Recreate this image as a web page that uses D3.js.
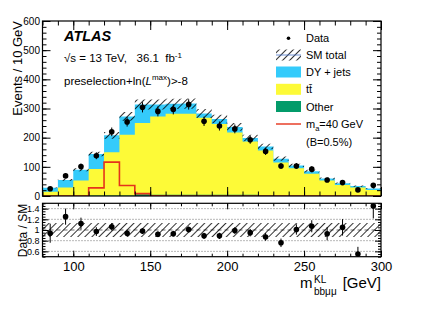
<!DOCTYPE html>
<html>
<head>
<meta charset="utf-8">
<script src="https://cdn.jsdelivr.net/npm/d3@7"></script>
<style>
body { margin: 0; background: #fff; }
text { font-family: "Liberation Sans", Arial, Helvetica, sans-serif; }
</style>
</head>
<body>
<div id="vis"></div>
<script>
// bins (lower edges, GeV)
var binLow = [80, 90, 100, 110, 120, 130, 140, 150, 160, 170, 180, 190, 200, 210, 220, 230, 240, 250, 260, 270, 280, 290];
var binWidth = 10;

// observed events
var dataEvents = [25, 69, 101, 138, 220, 254, 304, 290, 297, 314, 256, 240, 230, 193, 153, 103, 103, 92, 55, 46, 21, 37];
// stacked tops
var smTotal  = [28, 55, 90, 144, 208, 273, 314, 314, 316, 317, 283, 264, 237, 199, 170, 128, 105, 85, 60, 44, 34, 26];
var ttbarTop = [15, 29, 53, 93, 150, 210, 250, 273, 282, 282, 268, 247, 218, 187, 156, 115, 95, 76, 53, 38, 29, 21];
var otherBkg = [1, 1, 1, 2, 2, 2, 6, 4, 4, 4, 4, 4, 4, 4, 3, 2, 2, 1, 1, 1, 1, 1];
// signal m_a = 40 GeV
var signal   = [0, 0, 0, 28, 116, 36, 8, 1, 0, 0, 0, 0, 0, 0, 0, 0, 0, 0, 0, 0, 0, 0];
// data / SM
var ratioVals = [0.94, 1.25, 1.12, 0.97, 1.06, 0.94, 0.98, 0.92, 0.93, 1.01, 0.89, 0.89, 0.99, 0.95, 0.87, 0.76, 1.01, 1.07, 0.93, 1.05, 0.55, 1.45];

var mainBandRel = 0.055;
var ratioBandRel = 0.13;

var yTicksMain = [0, 100, 200, 300, 400, 500, 600];
var yTicksRatio = [0.6, 0.8, 1, 1.2, 1.4];
var xTickLabels = [100, 150, 200, 250, 300];

var legendItems = ["Data", "SM total", "DY + jets", "tt\u0304", "Other", "m_a=40 GeV", "(B=0.5%)"];

var cBlue = "#34cbfb", cYellow = "#fdfa37", cGreen = "#039b6a", cRed = "#e5331b";

var width = 424, height = 328;
var L = 42.5, R = 381;
var mainTop = 21, mainBot = 196;
var ratTop = 203.3, ratBot = 256.7;

var svg = d3.select("#vis").append("svg")
    .attr("width", width).attr("height", height);

var defs = svg.append("defs");
var pat = defs.append("pattern").attr("id", "hatch")
    .attr("patternUnits", "userSpaceOnUse")
    .attr("width", 5).attr("height", 5)
    .attr("patternTransform", "rotate(45)");
pat.append("line").attr("x1", 2.5).attr("y1", 0).attr("x2", 2.5).attr("y2", 5)
    .attr("stroke", "#000").attr("stroke-width", 0.8);

defs.append("clipPath").attr("id", "clipMain").append("rect")
    .attr("x", L).attr("y", mainTop).attr("width", R - L).attr("height", mainBot - mainTop);
defs.append("clipPath").attr("id", "clipRatio").append("rect")
    .attr("x", L).attr("y", ratTop).attr("width", R - L).attr("height", ratBot - ratTop);

var x = d3.scaleLinear().domain([80, 300]).range([L, R]);
var y = d3.scaleLinear().domain([0, 600]).range([mainBot, mainTop]);
var yr = d3.scaleLinear().domain([0.5, 1.5]).range([ratBot, ratTop]);

function steps(vals) {
    var pts = binLow.map(function(b, i) { return [b, vals[i]]; });
    pts.push([binLow[binLow.length - 1] + binWidth, vals[vals.length - 1]]);
    return pts;
}

var stepArea = d3.area().curve(d3.curveStepAfter)
    .x(function(d) { return x(d[0]); })
    .y0(y(0))
    .y1(function(d) { return y(d[1]); });

// main panel
var gMain = svg.append("g").attr("clip-path", "url(#clipMain)");

gMain.append("path").datum(steps(smTotal)).attr("d", stepArea).attr("fill", cBlue);
gMain.append("path").datum(steps(ttbarTop)).attr("d", stepArea).attr("fill", cYellow);
gMain.append("path").datum(steps(otherBkg)).attr("d", stepArea).attr("fill", cGreen);

var bandArea = d3.area().curve(d3.curveStepAfter)
    .x(function(d) { return x(d[0]); })
    .y0(function(d) { return y(d[1] * (1 - mainBandRel)); })
    .y1(function(d) { return y(d[1] * (1 + mainBandRel)); });
gMain.append("path").datum(steps(smTotal)).attr("d", bandArea).attr("fill", "url(#hatch)");

var stepLine = d3.line().curve(d3.curveStepAfter)
    .x(function(d) { return x(d[0]); })
    .y(function(d) { return y(d[1]); });
gMain.append("path").datum(steps(signal)).attr("d", stepLine)
    .attr("fill", "none").attr("stroke", cRed).attr("stroke-width", 1.6);

var pts = gMain.selectAll(".dp").data(dataEvents).enter().append("g").attr("class", "dp");
pts.append("line")
    .attr("x1", function(d, i) { return x(binLow[i] + binWidth / 2); })
    .attr("x2", function(d, i) { return x(binLow[i] + binWidth / 2); })
    .attr("y1", function(d) { return y(d - Math.sqrt(d)); })
    .attr("y2", function(d) { return y(d + Math.sqrt(d)); })
    .attr("stroke", "#000").attr("stroke-width", 1);
pts.append("circle")
    .attr("cx", function(d, i) { return x(binLow[i] + binWidth / 2); })
    .attr("cy", function(d) { return y(d); })
    .attr("r", 2.8).attr("fill", "#000");

// ratio panel
var gRat = svg.append("g").attr("clip-path", "url(#clipRatio)");

yTicksRatio.forEach(function(v) {
    gRat.append("line").attr("x1", L).attr("x2", R).attr("y1", yr(v)).attr("y2", yr(v))
        .attr("stroke", "#333").attr("stroke-width", 0.7)
        .attr("stroke-dasharray", v === 1 ? "4,3" : "1,2");
});

var ratBand = d3.area().curve(d3.curveStepAfter)
    .x(function(d) { return x(d[0]); })
    .y0(yr(1 - ratioBandRel))
    .y1(yr(1 + ratioBandRel));
gRat.append("path").datum(steps(smTotal)).attr("d", ratBand).attr("fill", "url(#hatch)");

var rp = gRat.selectAll(".rp").data(ratioVals).enter().append("g").attr("class", "rp");
rp.append("line")
    .attr("x1", function(d, i) { return x(binLow[i] + binWidth / 2); })
    .attr("x2", function(d, i) { return x(binLow[i] + binWidth / 2); })
    .attr("y1", function(d, i) { return yr(d - Math.sqrt(dataEvents[i]) / smTotal[i]); })
    .attr("y2", function(d, i) { return yr(d + Math.sqrt(dataEvents[i]) / smTotal[i]); })
    .attr("stroke", "#000").attr("stroke-width", 1);
rp.append("circle")
    .attr("cx", function(d, i) { return x(binLow[i] + binWidth / 2); })
    .attr("cy", function(d) { return yr(d); })
    .attr("r", 2.8).attr("fill", "#000");

// axes with inward ticks
function tickAxis(axis, tx, ty, size, labels, fs, pad) {
    var g = svg.append("g").attr("transform", "translate(" + tx + "," + ty + ")")
        .call(axis.tickSize(-size).tickPadding(pad || 3));
    g.select(".domain").remove();
    g.selectAll("line").attr("stroke", "#000").attr("stroke-width", 1);
    g.selectAll("text").attr("font-size", fs || 10)
        .attr("font-family", "Liberation Sans, Arial, sans-serif").attr("fill", "#000");
    if (!labels) g.selectAll("text").remove();
    return g;
}

var minorX = d3.range(80, 301, 10);
var minorY = d3.range(0, 601, 20);
var minorR = d3.range(0.5, 1.501, 0.05);

// main
tickAxis(d3.axisLeft(y).tickValues(yTicksMain).tickFormat(d3.format("d")), L, 0, 8, true, 10, 2.5);
tickAxis(d3.axisLeft(y).tickValues(minorY), L, 0, 4, false);
tickAxis(d3.axisRight(y).tickValues(yTicksMain), R, 0, 8, false);
tickAxis(d3.axisRight(y).tickValues(minorY), R, 0, 4, false);
tickAxis(d3.axisTop(x).tickValues(xTickLabels), 0, mainTop, 9, false);
tickAxis(d3.axisTop(x).tickValues(minorX), 0, mainTop, 4.5, false);
tickAxis(d3.axisBottom(x).tickValues(xTickLabels), 0, mainBot, 9, false);
tickAxis(d3.axisBottom(x).tickValues(minorX), 0, mainBot, 4.5, false);

// ratio
tickAxis(d3.axisLeft(yr).tickValues(yTicksRatio).tickFormat(d3.format("")), L, 0, 6, true, 9, 3);
tickAxis(d3.axisLeft(yr).tickValues(minorR), L, 0, 3, false);
tickAxis(d3.axisRight(yr).tickValues(yTicksRatio), R, 0, 6, false);
tickAxis(d3.axisRight(yr).tickValues(minorR), R, 0, 3, false);
tickAxis(d3.axisTop(x).tickValues(xTickLabels), 0, ratTop, 6, false);
tickAxis(d3.axisTop(x).tickValues(minorX), 0, ratTop, 3, false);
tickAxis(d3.axisBottom(x).tickValues(xTickLabels), 0, ratBot, 6, true, 13, 5);
tickAxis(d3.axisBottom(x).tickValues(minorX), 0, ratBot, 3, false);

// frames
svg.append("rect").attr("x", L).attr("y", mainTop).attr("width", R - L).attr("height", mainBot - mainTop)
    .attr("fill", "none").attr("stroke", "#000").attr("stroke-width", 1.2);
svg.append("rect").attr("x", L).attr("y", ratTop).attr("width", R - L).attr("height", ratBot - ratTop)
    .attr("fill", "none").attr("stroke", "#000").attr("stroke-width", 1.2);

// axis titles
svg.append("text").attr("transform", "translate(22," + mainTop + ") rotate(-90)")
    .attr("text-anchor", "end").attr("font-size", 13).text("Events / 10 GeV");
svg.append("text").attr("transform", "translate(27," + (ratTop + 0.5) + ") rotate(-90)")
    .attr("text-anchor", "end").attr("font-size", 12).text("Data / SM");

svg.append("text").attr("x", 300).attr("y", 287.5).attr("font-size", 15).text("m");
svg.append("text").attr("x", 314).attr("y", 283).attr("font-size", 10).text("KL");
svg.append("text").attr("x", 314).attr("y", 295).attr("font-size", 10).text("bb\u03bc\u03bc");
svg.append("text").attr("x", R).attr("y", 287.5).attr("text-anchor", "end").attr("font-size", 15).text("[GeV]");

// labels
svg.append("text").attr("x", 64).attr("y", 40.5).attr("font-size", 14.5)
    .attr("font-weight", "bold").attr("font-style", "italic").text("ATLAS");

var t1 = svg.append("text").attr("x", 64).attr("y", 62).attr("font-size", 11.5).style("white-space", "pre");
t1.append("tspan").text("\u221as = 13 TeV,   36.1  fb");
t1.append("tspan").attr("font-size", 8).attr("dy", -4.5).text("-1");

var t2 = svg.append("text").attr("x", 64).attr("y", 84.5).attr("font-size", 11.5);
t2.append("tspan").text("preselection+ln(");
t2.append("tspan").attr("font-style", "italic").text("L");
t2.append("tspan").attr("font-size", 8).attr("dy", -4.5).text("max");
t2.append("tspan").attr("dy", 4.5).text(")>-8");

// legend
var lgX = 276, lgW = 25, lgT = 306;
var lgY = [38.3, 55, 72, 89.3, 106.5, 124, 141.5];
var lg = svg.append("g").attr("font-size", 11);

lg.append("circle").attr("cx", lgX + lgW / 2).attr("cy", lgY[0]).attr("r", 1.8).attr("fill", "#000");
lg.append("rect").attr("x", lgX).attr("y", lgY[1] - 5.5).attr("width", lgW).attr("height", 11).attr("fill", "url(#hatch)");
lg.append("line").attr("x1", lgX).attr("x2", lgX + lgW).attr("y1", lgY[1]).attr("y2", lgY[1])
    .attr("stroke", "#4a74c9").attr("stroke-width", 0.8);
[cBlue, cYellow, cGreen].forEach(function(c, k) {
    lg.append("rect").attr("x", lgX).attr("y", lgY[k + 2] - 5.5).attr("width", lgW).attr("height", 11).attr("fill", c);
});
lg.append("line").attr("x1", lgX).attr("x2", lgX + lgW).attr("y1", lgY[5]).attr("y2", lgY[5])
    .attr("stroke", cRed).attr("stroke-width", 1.4);

legendItems.forEach(function(s, k) {
    var t = lg.append("text").attr("x", lgT).attr("y", lgY[k] + 4);
    if (s.indexOf("m_a") === 0) {
        t.append("tspan").text("m");
        t.append("tspan").attr("font-size", 7.5).attr("dy", 2.5).text("a");
        t.append("tspan").attr("dy", -2.5).text(s.slice(3));
    } else {
        t.text(s);
    }
});
</script>
</body>
</html>
